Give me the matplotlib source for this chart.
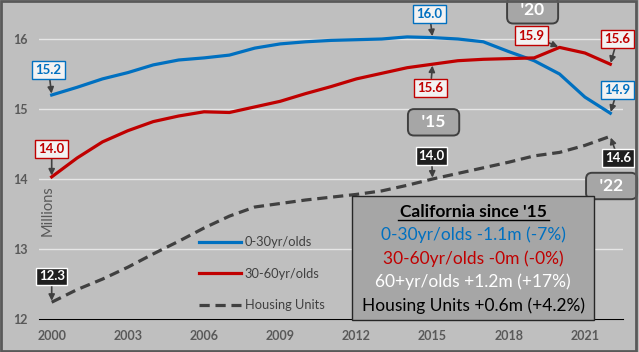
import matplotlib
matplotlib.use("Agg")
import matplotlib.pyplot as plt
from matplotlib.patches import Rectangle
from matplotlib.lines import Line2D

plt.rcParams['font.family'] = ['Lato', 'DejaVu Sans']

# data (millions)
years = list(range(2000, 2023))
young = [15.20, 15.31, 15.43, 15.52, 15.63, 15.70, 15.73, 15.77, 15.87, 15.93, 15.96, 15.98,
         15.99, 16.00, 16.03, 16.02, 16.00, 15.96, 15.82, 15.69, 15.50, 15.17, 14.94]
middle = [14.03, 14.30, 14.53, 14.69, 14.82, 14.90, 14.96, 14.95, 15.03, 15.11, 15.22, 15.32,
          15.43, 15.51, 15.59, 15.64, 15.69, 15.71, 15.72, 15.73, 15.88, 15.80, 15.64]
housing = [12.24, 12.42, 12.57, 12.74, 12.93, 13.11, 13.30, 13.47, 13.60, 13.65, 13.70, 13.74,
           13.78, 13.83, 13.91, 14.00, 14.08, 14.16, 14.24, 14.33, 14.38, 14.48, 14.61]
series_names = ['0-30yr/olds', '30-60yr/olds', 'Housing Units']
xtick_years = [2000, 2003, 2006, 2009, 2012, 2015, 2018, 2021]
summary_title = "California since '15"
summary_lines = ['0-30yr/olds -1.1m (-7%)', '30-60yr/olds -0m (-0%)',
                 '60+yr/olds +1.2m (+17%)', 'Housing Units +0.6m (+4.2%)']

BLUE, RED, DARK = '#0070C0', '#C00000', '#404040'
BG = '#BFBFBF'

W, H = 639, 352
fig = plt.figure(figsize=(W / 100, H / 100), dpi=100, facecolor=BG)
ax = fig.add_axes([39 / W, 1 - 319 / H, (623 - 39) / W, (319 - 4) / H])
ax.set_facecolor(BG)

ax.plot(years, young, color=BLUE, lw=2.3, label=series_names[0], zorder=3)
ax.plot(years, middle, color=RED, lw=2.3, label=series_names[1], zorder=3)
ax.plot(years, housing, color=DARK, lw=2.3, ls=(0, (3.2, 1.8)), label=series_names[2], zorder=3)

ax.set_xlim(1999.5, 2022.5)
ax.set_ylim(12, 16.5)
ax.set_yticks([12, 13, 14, 15, 16])
ax.set_xticks(xtick_years)
ax.grid(axis='y', color='#E6E6E6', lw=1)
ax.set_axisbelow(True)
for s in ['top', 'right', 'left']:
    ax.spines[s].set_visible(False)
ax.spines['bottom'].set_color('black')
ax.tick_params(length=0, labelsize=9, labelcolor='#595959', pad=8)
for lab in ax.get_xticklabels() + ax.get_yticklabels():
    lab.set_fontweight('bold')
ax.text(1999.85, 13.55, 'Millions', rotation=90, ha='center', va='center',
        fontsize=10.5, color='#595959')

leg = ax.legend(loc='upper left', bbox_to_anchor=(193 / W, 1 - 230 / H),
                bbox_transform=fig.transFigure, frameon=False, fontsize=9.3,
                handlelength=3.2, handletextpad=0.3, labelspacing=1.5, borderpad=0)
for t in leg.get_texts():
    t.set_color('#404040')

# value call-outs
def callout(txt, i, series, tx, ty, color, dark=False):
    if dark:
        bbox = dict(boxstyle='square,pad=0.2', fc='#1F1F1F', ec='white', lw=1)
        tc = 'white'
    else:
        bbox = dict(boxstyle='square,pad=0.25', fc='#F2F2F2', ec=color, lw=1)
        tc = color
    ax.annotate(txt, xy=(years[i], series[i]), xytext=(tx, ty), ha='center', va='center',
                fontsize=9.5, color=tc, fontweight='bold', bbox=bbox, annotation_clip=False,
                arrowprops=dict(arrowstyle='-|>', color='#404040', lw=1.2,
                                mutation_scale=9, shrinkA=0, shrinkB=1), zorder=5)

callout('15.2', 0, young, 1999.88, 15.56, BLUE)
callout('14.0', 0, middle, 2000.0, 14.43, RED)
callout('12.3', 0, housing, 2000.0, 12.61, None, dark=True)
callout('16.0', 15, young, 2014.88, 16.36, BLUE)
callout('15.6', 15, middle, 2014.92, 15.30, RED)
callout('14.0', 15, housing, 2014.96, 14.33, None, dark=True)
callout('15.9', 20, middle, 2018.9, 16.05, RED)
callout('15.6', 22, middle, 2022.28, 16.0, RED)
callout('14.9', 22, young, 2022.28, 15.27, BLUE)
callout('14.6', 22, housing, 2022.3, 14.3, None, dark=True)

# year tags
for txt, tx, ty in [("'15", 2015.04, 14.81), ("'20", 2018.94, 16.41), ("'22", 2022.05, 13.9)]:
    ax.text(tx, ty, '  ' + txt + '  ', ha='center', va='center', fontsize=12.5, color='white',
            fontweight='bold', zorder=6,
            bbox=dict(boxstyle='round,pad=0.3,rounding_size=0.35', fc='#A6A6A6',
                      ec='#404040', lw=1.4), clip_on=False)

# summary box
fig.add_artist(Rectangle((352 / W, 1 - 320 / H), 242 / W, 124 / H, transform=fig.transFigure,
                         fc='#A6A6A6', ec='#262626', lw=1, zorder=4))
cx = 473 / W
fig.text(cx, 1 - 212 / H, summary_title, ha='center', va='center', fontsize=12.5,
         color='black', fontweight='bold', zorder=5)
fig.add_artist(Line2D([398 / W, 549 / W], [1 - 220 / H, 1 - 220 / H], transform=fig.transFigure,
                      color='black', lw=1, zorder=5))
for j, (line, col) in enumerate(zip(summary_lines, [BLUE, RED, 'white', 'black'])):
    fig.text(cx, 1 - (235 + 23.5 * j) / H, line, ha='center', va='center', fontsize=12.5,
             color=col, zorder=5)

# outer frame
fig.add_artist(Rectangle((0.002, 0.003), 0.994, 0.994, transform=fig.transFigure,
                         fill=False, ec='#595959', lw=2, zorder=10))

fig.savefig('out.png', dpi=100, facecolor=BG)
